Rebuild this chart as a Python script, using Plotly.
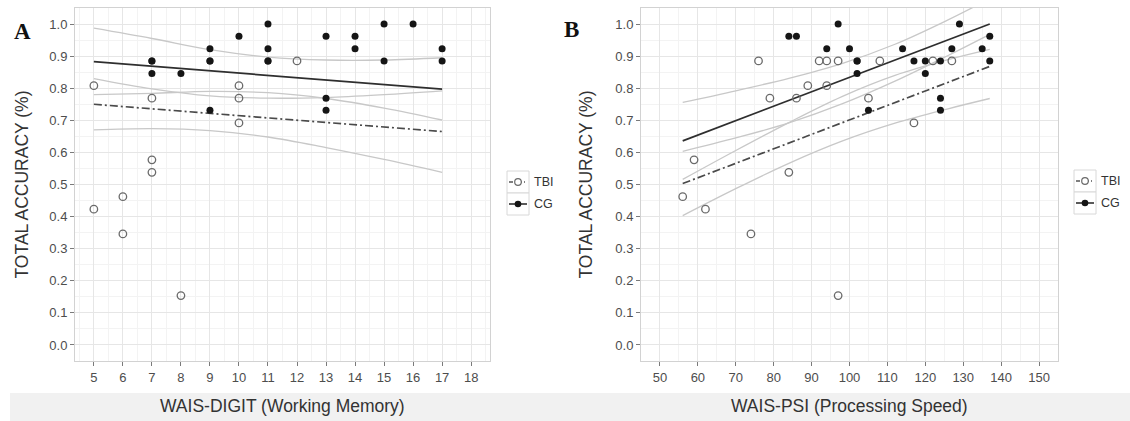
import plotly.graph_objects as go

# ---------------- Panel A: WAIS-DIGIT (Working Memory) ----------------
a_tbi_x = [5, 5, 6, 6, 7, 7, 7, 8, 10, 10, 10, 12]
a_tbi_y = [0.808, 0.423, 0.462, 0.346, 0.769, 0.577, 0.538, 0.154, 0.808, 0.769, 0.692, 0.885]

a_cg_x = [7, 7, 7, 8, 9, 9, 9, 9, 10, 11, 11, 11, 11, 13, 13, 13, 14, 14, 15, 15, 16, 17, 17]
a_cg_y = [0.885, 0.885, 0.846, 0.846, 0.923, 0.885, 0.885, 0.731, 0.962, 1.0, 0.923, 0.885, 0.885,
          0.962, 0.769, 0.731, 0.962, 0.923, 1.0, 0.885, 1.0, 0.923, 0.885]

a_fit_x = [5, 17]
a_cg_fit = [0.883, 0.797]
a_tbi_fit = [0.750, 0.665]

a_band_x = [5, 7, 9, 11, 13, 15, 17]
a_cg_upper = [0.987, 0.955, 0.920, 0.897, 0.888, 0.888, 0.895]
a_cg_lower = [0.780, 0.784, 0.790, 0.786, 0.768, 0.738, 0.701]
a_tbi_upper = [0.830, 0.798, 0.776, 0.769, 0.771, 0.780, 0.792]
a_tbi_lower = [0.670, 0.674, 0.668, 0.648, 0.615, 0.578, 0.538]

# ---------------- Panel B: WAIS-PSI (Processing Speed) ----------------
b_tbi_x = [56, 59, 62, 74, 76, 79, 84, 86, 89, 92, 94, 94, 97, 97, 105, 108, 117, 122, 127]
b_tbi_y = [0.462, 0.577, 0.423, 0.346, 0.885, 0.769, 0.538, 0.769, 0.808, 0.885, 0.885, 0.808,
           0.885, 0.154, 0.769, 0.885, 0.692, 0.885, 0.885]

b_cg_x = [84, 86, 94, 97, 100, 102, 102, 102, 105, 114, 117, 120, 120, 124, 124, 124, 127, 129,
          135, 137, 137]
b_cg_y = [0.962, 0.962, 0.923, 1.0, 0.923, 0.885, 0.885, 0.846, 0.731, 0.923, 0.885, 0.885, 0.846,
          0.885, 0.769, 0.731, 0.923, 1.0, 0.923, 0.962, 0.885]

b_fit_x = [56, 137]
b_cg_fit = [0.636, 1.0]
b_tbi_fit = [0.503, 0.868]

b_band_x = [56, 70, 84, 98, 112, 126, 137]
b_cg_upper = [0.756, 0.792, 0.831, 0.877, 0.937, 1.013, 1.079]
b_cg_lower = [0.516, 0.606, 0.693, 0.774, 0.840, 0.889, 0.921]
b_tbi_upper = [0.603, 0.645, 0.692, 0.751, 0.822, 0.902, 0.968]
b_tbi_lower = [0.403, 0.487, 0.566, 0.635, 0.691, 0.736, 0.768]

y_ticks = [0.0, 0.1, 0.2, 0.3, 0.4, 0.5, 0.6, 0.7, 0.8, 0.9, 1.0]
groups = ["TBI", "CG"]

W, H = 1130, 421
FONT = "Liberation Sans, Arial, Helvetica, sans-serif"
BAND_COL = "#c8c8c8"
CG_COL = "#151515"
TBI_COL = "#6a6a6a"
DASHDOT = "8px,3px,2px,3px"


def px(x):
    return x / W


def py(y):
    return 1 - y / H


fig = go.Figure()


def add_panel(xa, ya, band_x, cg_up, cg_lo, tbi_up, tbi_lo, fit_x, cg_fit, tbi_fit,
              tx, ty, cx, cy):
    for band in (cg_up, cg_lo, tbi_up, tbi_lo):
        fig.add_trace(go.Scatter(
            x=band_x, y=band, mode="lines", xaxis=xa, yaxis=ya,
            line=dict(color=BAND_COL, width=1.3, shape="spline", smoothing=1.0),
            hoverinfo="skip", showlegend=False))
    fig.add_trace(go.Scatter(
        x=fit_x, y=tbi_fit, mode="lines", xaxis=xa, yaxis=ya,
        line=dict(color="#4a4a4a", width=1.7, dash=DASHDOT), showlegend=False))
    fig.add_trace(go.Scatter(
        x=fit_x, y=cg_fit, mode="lines", xaxis=xa, yaxis=ya,
        line=dict(color="#2e2e2e", width=1.7), showlegend=False))
    fig.add_trace(go.Scatter(
        x=tx, y=ty, mode="markers", xaxis=xa, yaxis=ya, name=groups[0],
        marker=dict(symbol="circle-open", size=7.5, color=TBI_COL, line=dict(width=1.3)),
        showlegend=False))
    fig.add_trace(go.Scatter(
        x=cx, y=cy, mode="markers", xaxis=xa, yaxis=ya, name=groups[1],
        marker=dict(symbol="circle", size=7, color=CG_COL, line=dict(width=0)),
        showlegend=False))


add_panel("x", "y", a_band_x, a_cg_upper, a_cg_lower, a_tbi_upper, a_tbi_lower,
          a_fit_x, a_cg_fit, a_tbi_fit, a_tbi_x, a_tbi_y, a_cg_x, a_cg_y)
add_panel("x2", "y2", b_band_x, b_cg_upper, b_cg_lower, b_tbi_upper, b_tbi_lower,
          b_fit_x, b_cg_fit, b_tbi_fit, b_tbi_x, b_tbi_y, b_cg_x, b_cg_y)

ydom = [1 - 361 / H, 1 - 8 / H]

common_axis = dict(
    showline=True, mirror=True, linecolor="#d2d2d2", linewidth=1,
    showgrid=True, gridcolor="#e6e6e6", gridwidth=1,
    ticks="outside", ticklen=4, tickcolor="#7a7a7a", tickwidth=1,
    tickfont=dict(family=FONT, size=13, color="#4d4d4d"),
    zeroline=False,
)

yaxis_common = dict(common_axis, range=[-0.05, 1.05], tickvals=y_ticks, tickformat=".1f",
                    minor=dict(showgrid=True, gridcolor="#f3f3f3", dtick=0.05, tick0=0))

fig.update_layout(
    width=W, height=H,
    margin=dict(l=0, r=0, t=0, b=0),
    paper_bgcolor="white", plot_bgcolor="white",
    showlegend=False,
    xaxis=dict(common_axis, domain=[px(75), px(490)], range=[4.35, 18.65],
               tick0=0, dtick=1,
               minor=dict(showgrid=True, gridcolor="#f3f3f3", dtick=0.5, tick0=0),
               anchor="y"),
    yaxis=dict(yaxis_common, domain=ydom, anchor="x"),
    xaxis2=dict(common_axis, domain=[px(641), px(1058)], range=[45, 155],
                tick0=0, dtick=10,
                minor=dict(showgrid=True, gridcolor="#f3f3f3", dtick=5, tick0=0),
                anchor="y2"),
    yaxis2=dict(yaxis_common, domain=ydom, anchor="x2"),
)

shapes = []
annotations = []

# light strip behind the x-axis titles
shapes.append(dict(type="rect", xref="paper", yref="paper", layer="below",
                   x0=px(10), x1=px(1130), y0=py(421), y1=py(393),
                   fillcolor="#f1f1f1", line=dict(width=0)))

# axis titles
for cx_, title in [(282.5, "WAIS-DIGIT (Working Memory)"), (849.5, "WAIS-PSI (Processing Speed)")]:
    annotations.append(dict(x=px(cx_), y=py(406), xref="paper", yref="paper", text=title,
                            showarrow=False, xanchor="center", yanchor="middle",
                            font=dict(family=FONT, size=17.5, color="#333333")))
for cx_ in (21, 585):
    annotations.append(dict(x=px(cx_), y=py(184.5), xref="paper", yref="paper",
                            text="TOTAL ACCURACY (%)", textangle=-90, showarrow=False,
                            xanchor="center", yanchor="middle",
                            font=dict(family=FONT, size=17.5, color="#333333")))

# panel letters
for (lx, ly, letter) in [(22, 31, "A"), (571, 29, "B")]:
    annotations.append(dict(x=px(lx), y=py(ly), xref="paper", yref="paper",
                            text="<b>%s</b>" % letter, showarrow=False,
                            xanchor="center", yanchor="middle",
                            font=dict(family="Liberation Serif, Times New Roman, serif",
                                      size=23, color="#111111")))


def legend_block(x0, top):
    key_w, key_h = 22, 22
    for i, grp in enumerate(groups):
        y0 = top + i * key_h
        yc = y0 + key_h / 2
        shapes.append(dict(type="rect", xref="paper", yref="paper",
                           x0=px(x0), x1=px(x0 + key_w), y0=py(y0 + key_h), y1=py(y0),
                           line=dict(color="#d8d8d8", width=1), fillcolor="white"))
        if grp == "TBI":
            shapes.append(dict(type="line", xref="paper", yref="paper",
                               x0=px(x0 + 2), x1=px(x0 + key_w - 2), y0=py(yc), y1=py(yc),
                               line=dict(color="#555555", width=1.3, dash="4px,2px,1px,2px")))
            shapes.append(dict(type="circle", xref="paper", yref="paper",
                               xsizemode="pixel", ysizemode="pixel",
                               xanchor=px(x0 + key_w / 2), yanchor=py(yc),
                               x0=-3.3, x1=3.3, y0=-3.3, y1=3.3,
                               line=dict(color=TBI_COL, width=1.2), fillcolor="white"))
        else:
            shapes.append(dict(type="line", xref="paper", yref="paper",
                               x0=px(x0 + 2), x1=px(x0 + key_w - 2), y0=py(yc), y1=py(yc),
                               line=dict(color="#222222", width=1.5)))
            shapes.append(dict(type="circle", xref="paper", yref="paper",
                               xsizemode="pixel", ysizemode="pixel",
                               xanchor=px(x0 + key_w / 2), yanchor=py(yc),
                               x0=-3.3, x1=3.3, y0=-3.3, y1=3.3,
                               line=dict(color=CG_COL, width=0), fillcolor=CG_COL))
        annotations.append(dict(x=px(x0 + key_w + 3), y=py(yc), xref="paper", yref="paper",
                                text=grp, showarrow=False, xanchor="left", yanchor="middle",
                                font=dict(family=FONT, size=12.5, color="#333333")))


legend_block(507, 171)
legend_block(1074, 170)

fig.update_layout(shapes=shapes, annotations=annotations)
fig.write_html("out.html")
